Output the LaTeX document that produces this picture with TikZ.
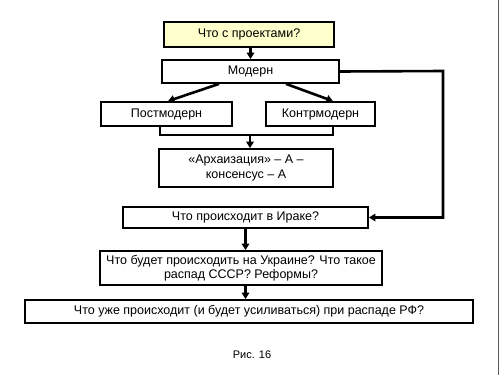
\documentclass[tikz,border=0pt]{standalone}
\usepackage{fontspec}
\setmainfont{Liberation Sans}
\usetikzlibrary{arrows.meta}
\definecolor{qyellow}{RGB}{255,255,204}
\definecolor{frame}{RGB}{90,90,90}
\begin{document}
\begin{tikzpicture}[x=1pt,y=-1pt,
  box/.style={draw=black,line width=1.8pt,fill=white,inner sep=0pt,align=center,
    font=\fontsize{12.5}{14.5}\selectfont},
  conn/.style={line width=2.6pt,-{Triangle[length=6.5pt,width=7.5pt]}},
  plainline/.style={line width=2.6pt}]
\useasboundingbox (0,0) rectangle (500,375);
\fill[white] (0,0) rectangle (500,375);
\draw[frame,line width=1pt] (498.5,0) -- (498.5,375);
\node[box,fill=qyellow,minimum width=170pt,minimum height=25pt] (q) at (249,34.5) {Что с проектами?};
\node[box,minimum width=177pt,minimum height=23pt] (m) at (250.5,71.5) {Модерн};
\node[box,minimum width=131pt,minimum height=24pt] (p) at (166.5,114) {Постмодерн};
\node[box,minimum width=109pt,minimum height=24pt] (k) at (320.5,114) {Контрмодерн};
\node[box,minimum width=174pt,minimum height=38pt] (a) at (246,168) {«Архаизация» – А –\\консенсус – А};
\node[box,minimum width=245pt,minimum height=21pt] (i) at (245.5,217.5) {Что происходит в Ираке?};
\node[box,minimum width=282pt,minimum height=34pt] (u) at (241,268) {Что будет происходить на Украине? Что такое\\распад СССР? Реформы?};
\node[box,minimum width=448pt,minimum height=23pt] (r) at (249,311.5) {Что уже происходит (и будет усиливаться) при распаде РФ?};
\node[font=\fontsize{11}{13}\selectfont,inner sep=0pt] (fig) at (252,355) {Рис. 16};
% connectors
\draw[conn] (q.south -| 250.5,0) -- (m.north -| 250.5,0);
\draw[conn] (m.south -| 219,0) -- (p.north -| 168,0);
\draw[conn] (m.south -| 286,0) -- (k.north -| 333,0);
\coordinate (b1) at (160,135);
\coordinate (b2) at (333,135);
\coordinate (bm) at (250,135);
\draw[plainline,line join=miter] (p.south -| b1) -- (b1) -- (b2) -- (k.south -| b2);
\draw[conn] (bm) -- (a.north -| bm);
\coordinate (rt) at (443,71);
\coordinate (rb) at (443,217.5);
\draw[conn,line join=miter] (m.east) -- (rt) -- (rb) -- (i.east);
\draw[conn] (i.south -| 245.5,0) -- (u.north -| 245.5,0);
\draw[conn] (u.south -| 245.5,0) -- (r.north -| 245.5,0);
\end{tikzpicture}
\end{document}
